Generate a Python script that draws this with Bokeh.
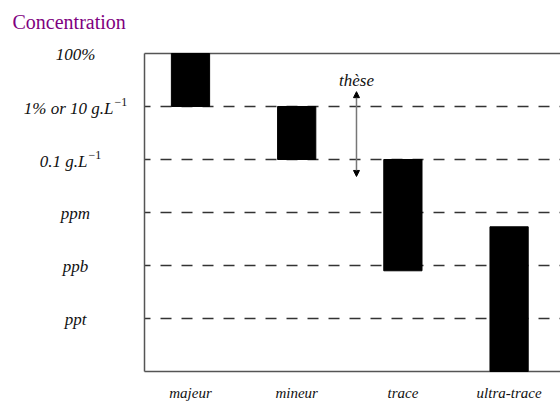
from bokeh.plotting import figure
from bokeh.models import Arrow, NormalHead, Range1d
from bokeh.core.properties import value
from bokeh.embed import file_html
from bokeh.resources import INLINE

# ---- data ----
title_text = "Concentration"
categories = ["majeur", "mineur", "trace", "ultra-trace"]
cat_pos = [1, 2, 3, 4]
bar_bottom = [5.0, 4.0, 1.9, 0.0]
bar_top = [6.0, 5.0, 4.0, 2.73]

level_values = [1, 2, 3, 4, 5, 6]
level_labels = ["ppt", "ppb", "ppm", "0.1 g.L", "1% or 10 g.L", "100%"]
level_sup = ["", "", "", "−1", "−1", ""]
grid_levels = [1, 2, 3, 4, 5]

these_x = 2.563
these_low = 3.68
these_high = 5.28
these_text = "thèse"

# plot-area box (data units) and full view
axis_x = 0.567
x_lo, x_hi = -0.789, 4.484
y_bottom, y_top = 0, 6
y_lo, y_hi = -0.604, 7.0

SERIF = value("Liberation Serif")
LINE = "#555555"
TXT = "#111111"

p = figure(width=560, height=403, x_range=Range1d(x_lo, x_hi),
           y_range=Range1d(y_lo, y_hi),
           output_backend="svg", toolbar_location=None,
           min_border=0, x_axis_location=None, y_axis_location=None)
p.outline_line_color = None
p.background_fill_color = "white"
p.border_fill_color = "white"
for g in p.grid:
    g.visible = False

# dashed level lines
p.segment(x0=[axis_x] * len(grid_levels), x1=[x_hi] * len(grid_levels),
          y0=grid_levels, y1=grid_levels, line_color="#333333",
          line_width=1.5, line_dash="11 10", line_dash_offset=5)

# frame lines (left, top, bottom)
p.segment(x0=[axis_x, axis_x, axis_x], x1=[axis_x, x_hi, x_hi],
          y0=[y_bottom, y_top, y_bottom], y1=[y_top, y_top, y_bottom],
          line_color=LINE, line_width=1.5)

# bars
p.vbar(x=cat_pos, width=0.36, bottom=bar_bottom, top=bar_top,
       fill_color="black", line_color="black")

# y labels: plain ones centred, ones with an exponent right-aligned at an anchor
plain = [i for i, s in enumerate(level_sup) if s == ""]
withsup = [i for i, s in enumerate(level_sup) if s != ""]
sup_anchor_px = {3: -57, 4: -31}   # screen offset of base-text end from the axis

p.text(x=[axis_x] * len(plain), y=[level_values[i] for i in plain],
       text=[level_labels[i] for i in plain],
       x_offset=-69, y_offset=1, text_align="center", text_baseline="middle",
       text_font=SERIF, text_font_style="italic", text_font_size="17px",
       text_color=TXT)
for i in withsup:
    p.text(x=[axis_x], y=[level_values[i]], text=[level_labels[i]],
           x_offset=sup_anchor_px[i], y_offset=2, text_align="right",
           text_baseline="middle", text_font=SERIF, text_font_style="italic",
           text_font_size="17px", text_color=TXT)
    p.text(x=[axis_x], y=[level_values[i]], text=[level_sup[i]],
           x_offset=sup_anchor_px[i] + 1, y_offset=-4, text_align="left",
           text_baseline="middle", text_font=SERIF, text_font_style="normal",
           text_font_size="12px", text_color=TXT)

# x labels
p.text(x=cat_pos, y=[y_bottom] * len(cat_pos), text=categories,
       y_offset=22, text_align="center", text_baseline="middle",
       text_font=SERIF, text_font_style="italic", text_font_size="15px",
       text_color=TXT)

# title
p.text(x=[x_lo], y=[y_hi], text=[title_text], x_offset=12, y_offset=21,
       text_align="left", text_baseline="middle",
       text_font=SERIF, text_font_style="normal", text_font_size="20px",
       text_color="#800080")

# thèse arrow
p.add_layout(Arrow(x_start=these_x, y_start=these_low, x_end=these_x, y_end=these_high,
                   start=NormalHead(size=6, fill_color="black", line_color="black"),
                   end=NormalHead(size=6, fill_color="black", line_color="black"),
                   line_color="#777777", line_width=1.5))
p.text(x=[these_x], y=[these_high], text=[these_text], y_offset=-11,
       text_align="center", text_baseline="middle",
       text_font=SERIF, text_font_style="italic", text_font_size="17px",
       text_color=TXT)

open("out.html", "w").write(file_html(p, INLINE))
